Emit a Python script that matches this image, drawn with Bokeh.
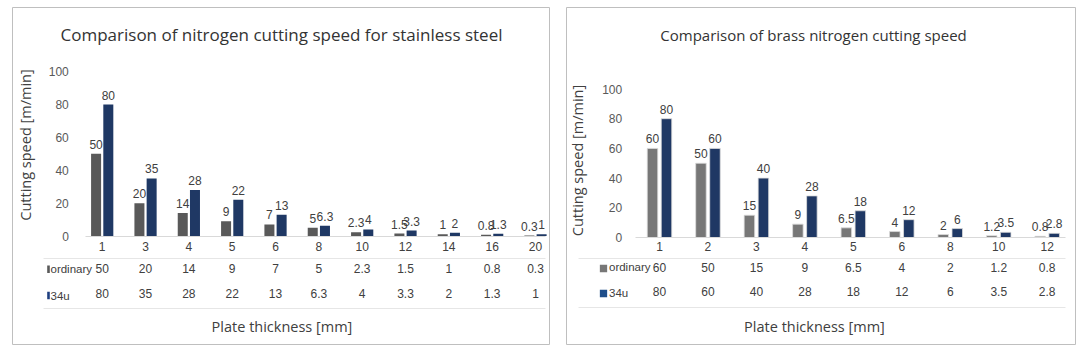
from bokeh.plotting import figure
from bokeh.models import LinearAxis, FixedTicker, Range1d, Label
from bokeh.layouts import row
from bokeh.embed import file_html
from bokeh.resources import INLINE
from bokeh.core.properties import value

# ---------------- data ----------------
ss_title = "Comparison of nitrogen cutting speed for stainless steel"
ss_thickness = ["1", "3", "4", "5", "6", "8", "10", "12", "14", "16", "20"]
ss_ordinary = [50, 20, 14, 9, 7, 5, 2.3, 1.5, 1, 0.8, 0.3]
ss_34u = [80, 35, 28, 22, 13, 6.3, 4, 3.3, 2, 1.3, 1]

brass_title = "Comparison of brass nitrogen cutting speed"
brass_thickness = ["1", "2", "3", "4", "5", "6", "8", "10", "12"]
brass_ordinary = [60, 50, 15, 9, 6.5, 4, 2, 1.2, 0.8]
brass_34u = [80, 60, 40, 28, 18, 12, 6, 3.5, 2.8]

series_names = ["ordinary", "34u"]
y_ticks = [0, 20, 40, 60, 80, 100]
x_title = "Plate thickness [mm]"
y_title = "Cutting speed [m/min]"

TITLE_FONT = "Open Sans"
NUM_FONT = "Liberation Sans"


def fmt(v):
    return "%g" % v


def make_panel(title, cats, s1, s2, g):
    fig_w = g["fig_w"]
    fl, fr, ft, fb = g["frame"]

    def X(px):  # absolute window x (px) -> data x
        return (px - g["cat0"]) / g["step"]

    def yd(py):
        return (g["y0"] - py) / g["scale"]

    p = figure(width=fig_w, height=352, output_backend="svg", toolbar_location=None,
               x_axis_type=None, y_axis_type=None,
               x_range=Range1d(X(g["x0"] + fl), X(g["x0"] + fr)),
               y_range=Range1d(yd(fb), yd(ft)))
    p.title_location = None
    p.min_border_left = fl
    p.min_border_right = fig_w - fr
    p.min_border_top = ft
    p.min_border_bottom = 352 - fb
    p.outline_line_color = "#bfbfbf"
    p.outline_line_width = 1
    p.background_fill_color = "white"
    p.border_fill_color = "white"

    idx = list(range(len(cats)))
    off = g["off"]
    bw = g["bw"]
    xs1 = [i - off for i in idx]
    xs2 = [i + off for i in idx]
    p.vbar(x=xs1, top=s1, bottom=0, width=bw, fill_color=g["c1"],
           line_color=g["bar_line"], line_width=g["bar_lw"])
    p.vbar(x=xs2, top=s2, bottom=0, width=bw, fill_color=g["c2"],
           line_color=g["bar_line"], line_width=g["bar_lw"])

    lab_kw = dict(text_align="center", text_baseline="bottom", y_offset=-5,
                  text_font=value(NUM_FONT), text_font_size="12px", text_color="#404040")
    p.text(x=xs1, y=s1, text=[fmt(v) for v in s1], **lab_kw)
    p.text(x=xs2, y=s2, text=[fmt(v) for v in s2], **lab_kw)

    # y axis
    yax = LinearAxis(fixed_location=X(g["yaxis_px"]), ticker=FixedTicker(ticks=y_ticks),
                     bounds=(0, 2 * yd(g["ytitle_cy"])))
    yax.axis_line_color = None
    yax.major_tick_line_color = None
    yax.minor_tick_line_color = None
    yax.major_tick_out = 0
    yax.major_label_standoff = 5
    yax.major_label_text_font = NUM_FONT
    yax.major_label_text_font_size = "12px"
    yax.major_label_text_color = "#595959"
    yax.axis_label = y_title
    yax.axis_label_text_font = TITLE_FONT
    yax.axis_label_text_font_style = "normal"
    yax.axis_label_text_font_size = g["axt_size"]
    yax.axis_label_text_color = "#404040"
    yax.axis_label_standoff = int(g["ytitle_standoff"])
    p.add_layout(yax, "left")

    def table_axis(py, labels, standoff, line=None, bounds=None, ticks=True):
        ax = LinearAxis(fixed_location=yd(py),
                        ticker=FixedTicker(ticks=idx if ticks else []))
        if labels is not None:
            ax.major_label_overrides = {i: lab for i, lab in zip(idx, labels)}
        ax.major_tick_line_color = None
        ax.minor_tick_line_color = None
        ax.major_tick_out = 0
        ax.major_label_standoff = int(round(standoff))
        ax.major_label_text_font = NUM_FONT
        ax.major_label_text_font_size = "12px"
        ax.major_label_text_color = "#404040"
        ax.axis_line_color = line
        if bounds is not None:
            ax.bounds = bounds
        p.add_layout(ax, "below")
        return ax

    base_b = (X(g["base_px"][0]), X(g["base_px"][1]))
    tab_b = (X(g["tab_px"][0]), X(g["tab_px"][1]))
    table_axis(g["y0"], cats, g["so_cat"], line="#d9d9d9", bounds=base_b)
    table_axis(g["sep1"], [fmt(v) for v in s1], g["so_r1"], line="#e6e6e6", bounds=tab_b)
    table_axis(g["row2"], [fmt(v) for v in s2], g["so_r2"], line=None)
    table_axis(g["sep2"], None, 5, line="#e6e6e6", bounds=tab_b, ticks=False)
    tax = table_axis(g["sep2"], None, 5, line=None, ticks=False,
                     bounds=(X(g["xtitle_cx"]) - 1, X(g["xtitle_cx"]) + 1))
    tax.axis_label = x_title
    tax.axis_label_text_font = TITLE_FONT
    tax.axis_label_text_font_style = "normal"
    tax.axis_label_text_font_size = g["axt_size"]
    tax.axis_label_text_color = "#404040"
    tax.axis_label_standoff = int(g["xtitle_standoff"])

    # legend keys of the data table
    colors = [g["c1"], g["leg_c2"]]
    for k, name in enumerate(series_names):
        ly = g["leg_y"][k]
        if g["leg_marker"] == "bar":
            p.rect(x=[X(g["leg_mx"])], y=[yd(ly)], width=2.6, height=7.5,
                   width_units="screen", height_units="screen",
                   fill_color=colors[k], line_color=None)
        else:
            p.scatter(x=[X(g["leg_mx"])], y=[yd(ly)], marker="square", size=7.3,
                      fill_color=colors[k], line_color=None)
        p.text(x=[X(g["leg_tx"])], y=[yd(g["leg_ty"][k])], text=[name],
               text_align="left", text_baseline="middle",
               text_font=value(NUM_FONT), text_font_size="11.5px", text_color="#404040")

    p.add_layout(Label(x=X(g["title_cx"]), y=yd(g["title_cy"]), text=title,
                       text_align="center", text_baseline="middle",
                       text_font=TITLE_FONT, text_font_size=g["title_size"],
                       text_color="#333333"))
    return p


left_geom = dict(
    fig_w=560, x0=0, frame=(12, 549, 7, 344),
    cat0=101.7, step=43.33, y0=235.5, scale=1.643,
    off=0.141, bw=0.231, c1="#595959", c2="#1f3864", leg_c2="#1f3f80",
    bar_line=None, bar_lw=1,
    base_px=(85, 545), tab_px=(43, 545),
    so_cat=6, sep1=258.3, so_r1=5, row2=283, so_r2=5, sep2=307.7,
    xtitle_cx=281.7, xtitle_standoff=8,
    yaxis_px=73.3, ytitle_cy=144, ytitle_standoff=10,
    title_cx=281, title_cy=34, title_size="17px", axt_size="14.5px",
    leg_marker="bar", leg_mx=48, leg_y=(268.7, 295), leg_tx=50, leg_ty=(268.7, 295),
)

right_geom = dict(
    fig_w=527, x0=560, frame=(6, 515, 7, 344),
    cat0=659, step=48.46, y0=237, scale=1.485,
    off=0.1445, bw=0.217, c1="#777777", c2="#1f3864", leg_c2="#1f4e89",
    bar_line="#dcdcdc", bar_lw=0.8,
    base_px=(635, 1065), tab_px=(578.3, 1065),
    so_cat=4, sep1=258.3, so_r1=4, row2=282, so_r2=4, sep2=306.7,
    xtitle_cx=814, xtitle_standoff=9,
    yaxis_px=626.7, ytitle_cy=160, ytitle_standoff=12,
    title_cx=813, title_cy=34.5, title_size="15px", axt_size="14.5px",
    leg_marker="square", leg_mx=603, leg_y=(268, 293), leg_tx=608.5, leg_ty=(266.7, 292.7),
)

p1 = make_panel(ss_title, ss_thickness, ss_ordinary, ss_34u, left_geom)
p2 = make_panel(brass_title, brass_thickness, brass_ordinary, brass_34u, right_geom)

layout = row(p1, p2)
layout.spacing = 0
open("out.html", "w").write(file_html(layout, INLINE))
